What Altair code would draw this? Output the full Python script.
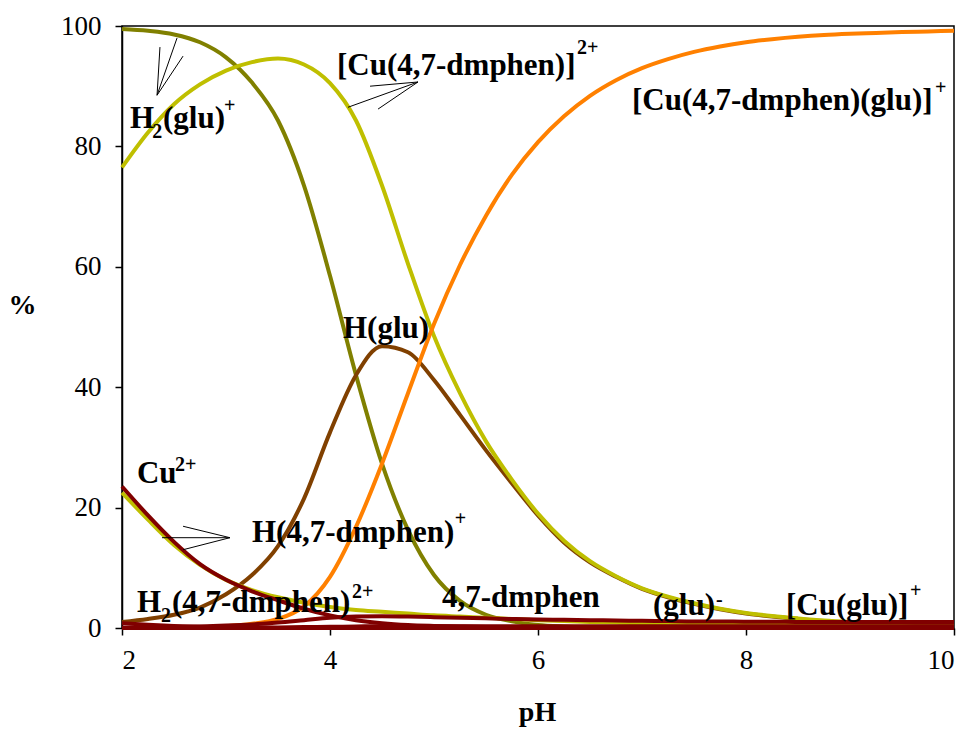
import altair as alt
import pandas as pd

# ---------------- data ----------------
ph = [2.0, 2.25, 2.5, 2.75, 3.0, 3.25, 3.5, 3.75, 4.0, 4.25, 4.5, 4.75, 5.0, 5.25,
      5.5, 5.75, 6.0, 6.25, 6.5, 6.75, 7.0, 7.25, 7.5, 7.75, 8.0, 8.25, 8.5, 8.75,
      9.0, 9.25, 9.5, 9.75, 10.0]

h2glu = [99.5, 99.2, 98.6, 97.3, 94.8, 90.6, 84.3, 73.5, 58.5, 42.0, 27.3, 16.3, 8.8,
         4.5, 2.2, 1.1, 0.5, 0.25, 0.12, 0.05, 0.02, 0.0, 0.0, 0.0, 0.0, 0.0, 0.0, 0.0,
         0.0, 0.0, 0.0, 0.0, 0.0]
hglu = [1.0, 1.5, 2.2, 3.4, 5.6, 8.8, 13.6, 21.5, 32.5, 42.0, 46.8, 45.8, 41.2, 35.4,
        29.5, 24.0, 18.7, 14.2, 10.9, 8.5, 6.5, 5.1, 4.0, 3.1, 2.4, 1.9, 1.5, 1.15,
        0.9, 0.7, 0.55, 0.45, 0.35]
cu_dmphen = [76.5, 82.3, 87.0, 90.3, 92.6, 94.0, 94.6, 93.6, 90.5, 84.3, 73.5, 60.5,
             48.5, 39.0, 31.0, 24.6, 19.0, 14.5, 11.1, 8.6, 6.6, 5.2, 4.1, 3.2, 2.5,
             2.0, 1.6, 1.25, 1.0, 0.8, 0.65, 0.5, 0.4]
h_dmphen = [22.5, 18.0, 13.8, 10.5, 8.0, 6.3, 5.1, 4.2, 3.5, 3.0, 2.7, 2.4, 2.1, 1.9,
            1.7, 1.5, 1.3, 1.15, 1.0, 0.9, 0.8, 0.75, 0.7, 0.65, 0.6, 0.6, 0.55, 0.55,
            0.5, 0.5, 0.5, 0.5, 0.5]
cu_dmphen_glu = [0.0, 0.02, 0.05, 0.15, 0.3, 0.7, 1.5, 3.6, 8.5, 16.8, 27.3, 39.0, 50.5,
                 60.3, 68.5, 75.3, 80.7, 85.0, 88.4, 91.0, 93.0, 94.5, 95.7, 96.6, 97.3,
                 97.8, 98.2, 98.5, 98.7, 98.85, 99.0, 99.1, 99.2]
h2_dmphen = [0.8, 0.55, 0.35, 0.2, 0.1, 0.05, 0.02, 0.0, 0.0, 0.0, 0.0, 0.0, 0.0, 0.0,
             0.0, 0.0, 0.0, 0.0, 0.0, 0.0, 0.0, 0.0, 0.0, 0.0, 0.0, 0.0, 0.0, 0.0, 0.0,
             0.0, 0.0, 0.0, 0.0]
dmphen = [0.0, 0.0, 0.0, 0.0, 0.02, 0.05, 0.1, 0.15, 0.2, 0.25, 0.3, 0.3, 0.3, 0.3,
          0.3, 0.3, 0.3, 0.3, 0.3, 0.3, 0.3, 0.3, 0.3, 0.3, 0.3, 0.3, 0.3, 0.3, 0.3,
          0.3, 0.3, 0.3, 0.3]
glu = [0.0, 0.0, 0.0, 0.0, 0.0, 0.0, 0.0, 0.0, 0.0, 0.0, 0.0, 0.0, 0.0, 0.0, 0.0,
       0.0, 0.0, 0.0, 0.0, 0.02, 0.03, 0.05, 0.06, 0.08, 0.1, 0.12, 0.14, 0.16, 0.18,
       0.2, 0.22, 0.24, 0.26]
cu_glu = [0.05, 0.1, 0.15, 0.25, 0.4, 0.6, 0.9, 1.3, 1.7, 1.9, 1.95, 1.9, 1.8, 1.7,
          1.6, 1.5, 1.4, 1.35, 1.3, 1.25, 1.2, 1.15, 1.1, 1.1, 1.05, 1.05, 1.0, 1.0,
          1.0, 1.0, 1.0, 1.0, 1.0]
cu = [23.5, 18.7, 14.3, 10.6, 8.0, 6.1, 4.6, 3.2, 2.1, 1.3, 0.8, 0.5, 0.35, 0.25,
      0.15, 0.1, 0.05, 0.0, 0.0, 0.0, 0.0, 0.0, 0.0, 0.0, 0.0, 0.0, 0.0, 0.0, 0.0,
      0.0, 0.0, 0.0, 0.0]

# drawing order (bottom to top) and colours
series = [
    ("H2(glu)+", h2glu, "#808000"),
    ("H(glu)", hglu, "#804000"),
    ("[Cu(4,7-dmphen)]2+", cu_dmphen, "#BFBF00"),
    ("H(4,7-dmphen)+", h_dmphen, "#BFBF00"),
    ("[Cu(4,7-dmphen)(glu)]+", cu_dmphen_glu, "#FF8000"),
    ("H2(4,7-dmphen)2+", h2_dmphen, "#800000"),
    ("4,7-dmphen", dmphen, "#800000"),
    ("(glu)-", glu, "#800000"),
    ("[Cu(glu)]+", cu_glu, "#800000"),
    ("Cu2+", cu, "#800000"),
]

# annotation text pieces: (pH, %, text, font size)
label_ph = [2.077, 2.29, 2.394, 2.981,
            4.067, 6.375,
            6.904, 9.817,
            4.125,
            2.144, 2.51,
            3.25, 5.2,
            2.144, 2.375, 2.481, 4.212,
            5.077,
            7.106, 7.712,
            8.385, 9.577]
label_pct = [83.06, 81.4, 83.06, 85.71,
             91.86, 95.35,
             86.05, 88.7,
             48.17,
             24.09, 26.08,
             14.29, 17.11,
             2.66, 1.0, 2.66, 4.98,
             3.49,
             2.16, 3.65,
             2.16, 5.15]
label_text = ["H", "2", "(glu)", "+",
              "[Cu(4,7-dmphen)]", "2+",
              "[Cu(4,7-dmphen)(glu)]", "+",
              "H(glu)",
              "Cu", "2+",
              "H(4,7-dmphen)", "+",
              "H", "2", "(4,7-dmphen)", "2+",
              "4,7-dmphen",
              "(glu)", "-",
              "[Cu(glu)]", "+"]
label_size = [31, 20, 31, 20,
              31, 20,
              31, 20,
              31,
              31, 20,
              31, 20,
              31, 20, 31, 20,
              31,
              31, 20,
              31, 20]

# arrow segments (pH, %) -> (pH2, %2)
arrow_x1 = [2.337, 2.337, 2.337, 4.846, 4.846, 4.846, 3.038, 3.038, 3.038]
arrow_y1 = [88.5, 88.5, 88.5, 90.7, 90.7, 90.7, 15.0, 15.0, 15.0]
arrow_x2 = [2.529, 2.365, 2.587, 4.173, 4.385, 4.462, 2.385, 2.587, 2.587]
arrow_y2 = [98.0, 96.5, 95.0, 86.5, 90.0, 86.2, 15.0, 16.9, 13.0]

# ---------------- chart ----------------
FONT = "Liberation Serif"
xscale = alt.Scale(domain=[2, 10], nice=False, zero=False)
yscale = alt.Scale(domain=[0, 100], nice=False)
xaxis = alt.Axis(values=[2, 4, 6, 8, 10], title="pH", titleAngle=0,
                 titleX=415, titleY=84, titleAlign="center", titleBaseline="middle",
                 labelPadding=12)
yaxis = alt.Axis(values=[0, 20, 40, 60, 80, 100], title="%", titleAngle=0,
                 titleX=-100, titleY=279, titleAlign="center", titleBaseline="middle",
                 labelPadding=14)


def X(field):
    return alt.X(field, type="quantitative", scale=xscale, axis=xaxis, title="pH")


def Y(field):
    return alt.Y(field, type="quantitative", scale=yscale, axis=yaxis, title="%")


layers = []
for name, vals, col in series:
    df = pd.DataFrame({"ph": ph, "pct": vals})
    layers.append(
        alt.Chart(df).mark_line(color=col, strokeWidth=4, interpolate="monotone")
        .encode(x=X("ph"), y=Y("pct"))
    )

arrows = pd.DataFrame({"ph": arrow_x1, "pct": arrow_y1, "ph2": arrow_x2, "pct2": arrow_y2})
layers.append(
    alt.Chart(arrows).mark_rule(color="black", strokeWidth=1)
    .encode(x=X("ph"), y=Y("pct"), x2="ph2:Q", y2="pct2:Q")
)

labels = pd.DataFrame({"ph": label_ph, "pct": label_pct, "text": label_text,
                       "size": label_size})
layers.append(
    alt.Chart(labels).mark_text(align="left", baseline="alphabetic", font=FONT,
                                fontWeight="bold", color="black")
    .encode(x=X("ph"), y=Y("pct"), text="text:N",
            size=alt.Size("size:Q", scale=None, legend=None))
)

chart = alt.layer(*layers).properties(
    width=832, height=602,
    autosize=alt.AutoSizeParams(type="none"),
    padding={"left": 114, "top": 18, "right": 11, "bottom": 110},
    background="white",
).configure_view(
    stroke="black", strokeWidth=1.5
).configure_axis(
    grid=False, domainColor="black", domainWidth=1.5, tickColor="black",
    tickWidth=1.5, tickSize=7, labelFont=FONT, labelFontSize=27, labelColor="black",
    titleFont=FONT, titleFontSize=28, titleFontWeight="bold", titleColor="black",
)

chart.save("out.html", embed_options={"renderer": "svg", "actions": False})
